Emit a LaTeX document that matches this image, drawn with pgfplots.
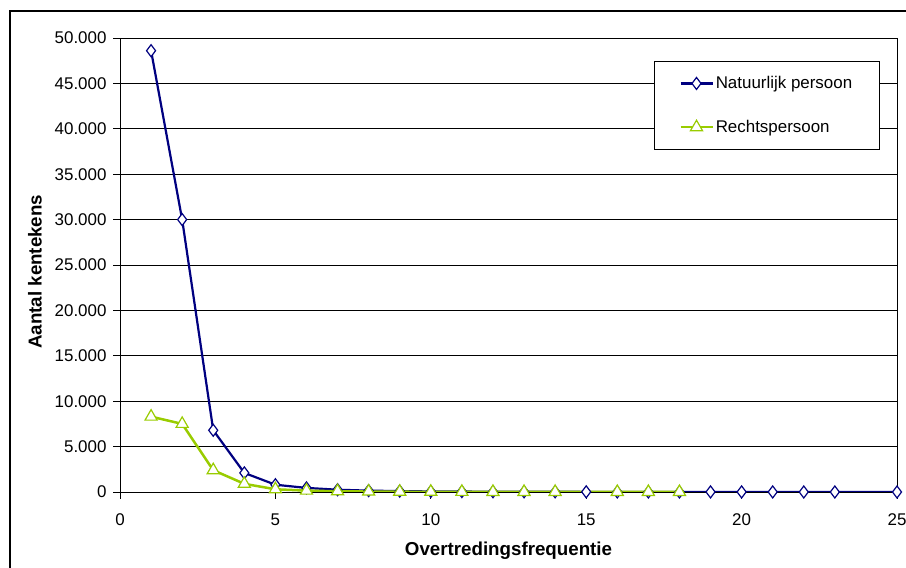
\documentclass[border=0pt]{standalone}
\usepackage{pgfplots}
\pgfplotsset{compat=1.18}
\usepackage{fontspec}
\setmainfont{Liberation Sans}
\definecolor{navyc}{RGB}{0,0,128}
\definecolor{greenc}{RGB}{153,204,0}
\begin{document}
\begin{tikzpicture}[x=1bp,y=1bp]
\path[use as bounding box] (0,0) rectangle (906,568);
\draw[line width=2bp] (10,-10) -- (10,557) -- (920,557);
\begin{axis}[
  at={(120bp,76bp)}, anchor=south west,
  scale only axis, width=777bp, height=454bp,
  xmin=0, xmax=25, ymin=0, ymax=50000,
  xtick={0,5,...,25}, ytick={0,5000,...,50000},
  scaled y ticks=false,
  /pgf/number format/.cd, 1000 sep={.}, assume math mode=true,
  /pgfplots/.cd,
  tick align=outside, major tick length=7bp,
  tick style={black, line width=0.8bp},
  xtick pos=bottom, ytick pos=left,
  ymajorgrids, grid style={black, line width=0.9bp},
  axis line style={black, line width=0.9bp},
  ticklabel style={font=\fontsize{17}{20}\selectfont},
  yticklabel style={xshift=-3bp},
  xticklabel style={yshift=-11bp},
  xlabel={Overtredingsfrequentie},
  ylabel={Aantal kentekens},
  xlabel style={at={(rel axis cs:0.5,0)}, anchor=center, yshift=-59bp, font=\fontsize{18.8}{22}\selectfont\bfseries},
  ylabel style={at={(rel axis cs:0,0.485)}, anchor=center, yshift=85bp, font=\fontsize{18.8}{22}\selectfont\bfseries},
  legend style={at={(rel axis cs:0.687,0.949)}, anchor=north west, draw=black, line width=0.9bp,
    font=\fontsize{17}{20}\selectfont, inner xsep=25bp, inner ysep=13bp, row sep=26bp},
  legend cell align=left,
  legend image code/.code={\draw[mark repeat=2,mark phase=2] plot coordinates {(0bp,0bp)(16bp,0bp)(32bp,0bp)};},
]
\addplot[navyc, line width=2.2bp, mark=diamond*, mark size=6bp, mark options={fill=white, line width=1.2bp}] coordinates {
(1,48600) (2,30000) (3,6800) (4,2100) (5,800) (6,450) (7,250) (8,150) (9,100) (10,60)
(11,50) (12,30) (13,25) (14,20) (15,15) (16,10) (17,8) (18,6) (19,5) (20,4)
(21,3) (22,2) (23,2) (25,1)};
\addlegendentry{Natuurlijk persoon}
\addplot[greenc, line width=2.5bp, mark=triangle*, mark size=7bp, mark options={fill=white, line width=1.2bp}] coordinates {
(1,8300) (2,7500) (3,2400) (4,900) (5,300) (6,150) (7,80) (8,50) (9,30) (10,20)
(11,15) (12,10) (13,8) (14,5) (16,3) (17,2) (18,1)};
\addlegendentry{Rechtspersoon}
\end{axis}
\end{tikzpicture}
\end{document}
